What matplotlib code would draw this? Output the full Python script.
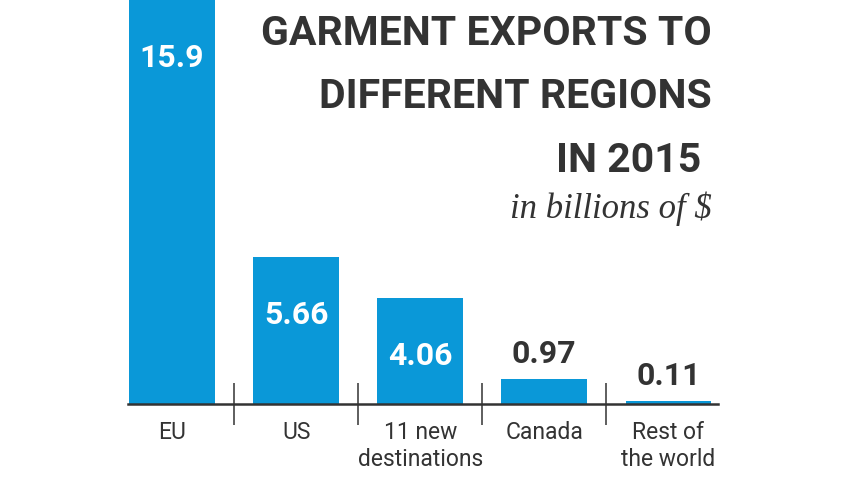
import matplotlib
matplotlib.use("Agg")
import matplotlib.pyplot as plt

categories = ["EU", "US", "11 new\ndestinations", "Canada", "Rest of\nthe world"]
values = [15.9, 5.66, 4.06, 0.97, 0.11]
value_labels = ["15.9", "5.66", "4.06", "0.97", "0.11"]

title_lines = ["GARMENT EXPORTS TO", "DIFFERENT REGIONS", "IN 2015 "]
subtitle = "in billions of $"

bar_color = "#0a98d8"
ink = "#333333"
sans = ["Roboto", "DejaVu Sans"]

fig = plt.figure(figsize=(8.57, 4.82), dpi=100)
ax = fig.add_axes([128 / 857, 78 / 482, 590 / 857, 404 / 482])

ymax = 404 / 26
x = list(range(len(categories)))
ax.bar(x, values, width=0.69, color=bar_color, zorder=2)
ax.set_xlim(-0.355, 4.40)
ax.set_ylim(0, ymax)

for s in ["top", "left", "right"]:
    ax.spines[s].set_visible(False)
ax.spines["bottom"].set_color(ink)
ax.spines["bottom"].set_linewidth(1.8)
ax.spines["bottom"].set_zorder(3)
ax.set_yticks([])

ax.set_xticks(x)
ax.set_xticklabels(categories, family=sans, fontsize=16.5, color=ink,
                   linespacing=1.25)
ax.tick_params(axis="x", which="major", length=0, pad=12)
ax.set_xticks([0.5, 1.5, 2.5, 3.5], minor=True)
ax.tick_params(axis="x", which="minor", length=30, width=1.1, color=ink,
               direction="inout")

for xi, v, lab in zip(x, values, value_labels):
    if v > 2:
        ax.annotate(lab, (xi, min(v, ymax)), xytext=(0, -48), textcoords="offset points",
                    ha="center", va="baseline", color="white", fontsize=23,
                    fontweight="bold", family=sans, annotation_clip=False)
    else:
        ax.annotate(lab, (xi, v), xytext=(0, 11.5), textcoords="offset points",
                    ha="center", va="baseline", color=ink, fontsize=23,
                    fontweight="bold", family=sans)

for i, line in enumerate(title_lines):
    fig.text(712 / 857, 1 - (45 + 63.5 * i) / 482, line, ha="right", va="baseline",
             fontsize=29.5, fontweight="bold", family=sans, color=ink)

fig.text(712 / 857, 1 - 218 / 482, subtitle, ha="right", va="baseline",
         fontsize=25, style="italic", family=["Liberation Serif", "DejaVu Serif"],
         color=ink)

fig.savefig("out.png", dpi=100)
